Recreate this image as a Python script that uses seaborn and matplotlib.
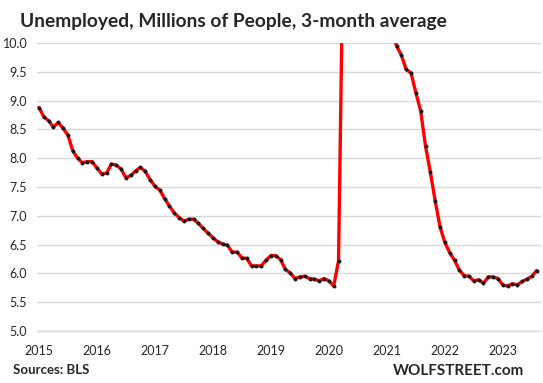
import numpy as np
import pandas as pd
import matplotlib
matplotlib.use("Agg")
import matplotlib.pyplot as plt
import seaborn as sns

# 3-month average of unemployed people, millions, monthly from Jan 2015 to Aug 2023
vals_2015 = [8.88, 8.72, 8.65, 8.54, 8.62, 8.52, 8.40, 8.13, 8.00, 7.92, 7.94, 7.94]
vals_2016 = [7.83, 7.73, 7.74, 7.90, 7.88, 7.81, 7.66, 7.70, 7.78, 7.84, 7.77, 7.63]
vals_2017 = [7.51, 7.45, 7.30, 7.17, 7.05, 6.97, 6.91, 6.94, 6.94, 6.87, 6.78, 6.70]
vals_2018 = [6.62, 6.55, 6.51, 6.49, 6.37, 6.37, 6.27, 6.26, 6.13, 6.13, 6.13, 6.23]
vals_2019 = [6.31, 6.31, 6.24, 6.07, 6.01, 5.91, 5.94, 5.95, 5.91, 5.90, 5.87, 5.91]
vals_2020 = [5.87, 5.78, 6.22, 12.0, 17.1, 20.6, 18.3, 15.8, 14.1, 12.3, 11.4, 10.8]
vals_2021 = [10.53, 10.28, 9.95, 9.79, 9.54, 9.48, 9.14, 8.82, 8.21, 7.76, 7.26, 6.81]
vals_2022 = [6.54, 6.36, 6.23, 6.06, 5.96, 5.95, 5.87, 5.89, 5.83, 5.94, 5.94, 5.91]
vals_2023 = [5.80, 5.78, 5.82, 5.80, 5.86, 5.90, 5.95, 6.05]

years = [2015, 2016, 2017, 2018, 2019, 2020, 2021, 2022, 2023]
y_ticks = [5.0, 5.5, 6.0, 6.5, 7.0, 7.5, 8.0, 8.5, 9.0, 9.5, 10.0]

values = (vals_2015 + vals_2016 + vals_2017 + vals_2018 + vals_2019
          + vals_2020 + vals_2021 + vals_2022 + vals_2023)
df = pd.DataFrame({"month": np.arange(len(values)), "unemployed": values})

sns.set_style("white")
plt.rcParams["font.family"] = ["Lato", "DejaVu Sans"]

fig = plt.figure(figsize=(5.43, 3.83), dpi=100)
ax = fig.add_axes([37 / 543, 1 - 331 / 383, 504 / 543, 288 / 383])

sns.lineplot(data=df, x="month", y="unemployed", color="#ff0000", lw=2.4, ax=ax, zorder=3)
sns.scatterplot(data=df, x="month", y="unemployed", color="#1a1a1a", s=8, linewidth=0, ax=ax, zorder=4)

ax.set_ylim(5.0, 10.0)
ax.set_xlim(-0.4, 103.9)
ax.set_yticks(y_ticks)
ax.set_yticklabels([f"{v:.1f}" for v in y_ticks])
ax.set_xticks([12 * i for i in range(len(years))])
ax.set_xticklabels([str(y) for y in years])
ax.set_xlabel("")
ax.set_ylabel("")

ax.grid(axis="y", color="#d9d9d9", lw=1)
ax.grid(axis="x", visible=False)
for s in ["left", "right", "top"]:
    ax.spines[s].set_visible(False)
ax.spines["bottom"].set_color("#d9d9d9")
ax.spines["bottom"].set_linewidth(1)
ax.tick_params(axis="y", length=0, labelsize=9, pad=7, colors="#262626")
ax.tick_params(axis="x", length=5, color="#d9d9d9", labelsize=9, pad=5, labelcolor="#262626")

fig.text(20 / 543, 1 - 21 / 383, "Unemployed, Millions of People, 3-month average",
         fontsize=13.8, fontweight="bold", va="center", ha="left")
fig.text(13 / 543, 1 - 370 / 383, "Sources: BLS", fontsize=9.5, fontweight="bold",
         va="center", ha="left")
fig.text(524 / 543, 1 - 371 / 383, "WOLFSTREET.com", fontsize=11, fontweight="bold",
         va="center", ha="right")

fig.savefig("out.png", dpi=100)
